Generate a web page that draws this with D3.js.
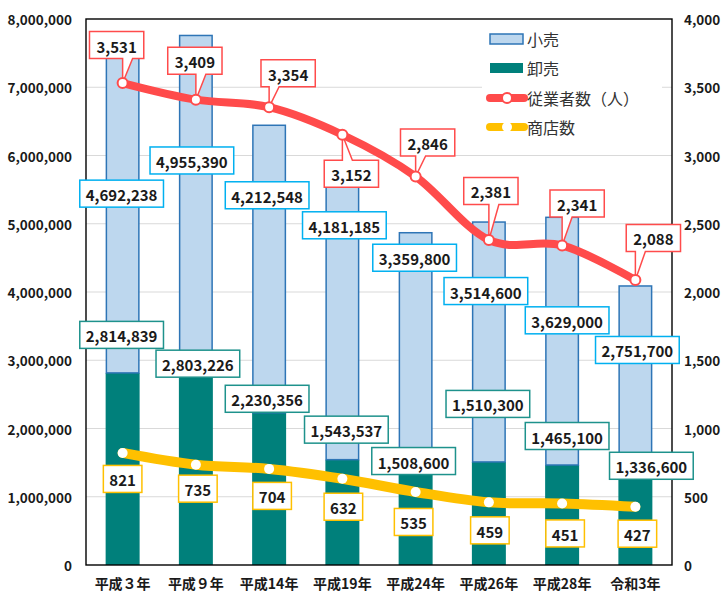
<!DOCTYPE html>
<html>
<head>
<meta charset="utf-8">
<script src="https://cdn.jsdelivr.net/npm/d3@7"></script>
<style>
  body { margin: 0; background: #fff; }
  svg { display: block; font-family: "Noto Sans CJK JP", "Noto Sans", sans-serif; }
</style>
</head>
<body>
<svg id="chart" width="724" height="597"></svg>
<script>
// ===== データ =====
const years = ["平成３年", "平成９年", "平成14年", "平成19年", "平成24年", "平成26年", "平成28年", "令和3年"];
const retail = [4692238, 4955390, 4212548, 4181185, 3359800, 3514600, 3629000, 2751700];
const wholesale = [2814839, 2803226, 2230356, 1543537, 1508600, 1510300, 1465100, 1336600];
const employees = [3531, 3409, 3354, 3152, 2846, 2381, 2341, 2088];
const stores = [821, 735, 704, 632, 535, 459, 451, 427];
const leftTicks = [0, 1000000, 2000000, 3000000, 4000000, 5000000, 6000000, 7000000, 8000000];
const rightTicks = [0, 500, 1000, 1500, 2000, 2500, 3000, 3500, 4000];
const legendNames = ["小売", "卸売", "従業者数（人）", "商店数"];

// ===== ラベル位置（手動調整, px） =====
// 小売: バー上端からの位置, 卸売: 卸売上端からの位置, 他: 点からの位置
const retailLbl = [[-1, 141], [-4, 125], [-2, 70], [2, 51], [-1, 25], [-3, 69], [5, 103], [2, 64]];
const wholesaleLbl = [[-1, -38], [2, -10], [-2, -14], [4, -30], [-2, -1], [-1, -58], [5, -29], [16, -8]];
const employeeLbl = [[-6, -38], [-1, -39], [19, -34], [9, 39], [12, -34], [2, -49], [15, -42], [18, -42]];
const storeLbl = [[0, 26], [2, 24], [3, 27], [1, 28], [-2, 30], [1, 28], [3, 30], [2, 27]];

// ===== 色 =====
const C = {
  retail: "#BDD7EE", retailStroke: "#2E75B6",
  wholesale: "#00807B",
  emp: "#FF4B4B", store: "#FFC000",
  retailLbl: "#00B0F0", wholesaleLbl: "#1E928C",
  grid: "#D9D9D9", text: "#1a1a1a"
};

const m = { left: 86, right: 672, top: 19, bottom: 565 };
const svg = d3.select("#chart");

const x = d3.scaleBand().domain(years).range([m.left, m.right])
  .paddingInner(0.536).paddingOuter(0.268);
const yL = d3.scaleLinear().domain([0, 8000000]).range([m.bottom, m.top]);
const yR = d3.scaleLinear().domain([0, 4000]).range([m.bottom, m.top]);
const cx = (i) => x(years[i]) + x.bandwidth() / 2;
const fmt = d3.format(",");

// グリッド
svg.append("g").selectAll("line").data(leftTicks.slice(1, -1)).join("line")
  .attr("x1", m.left).attr("x2", m.right)
  .attr("y1", d => yL(d)).attr("y2", d => yL(d))
  .attr("stroke", C.grid).attr("stroke-width", 1.2);

// 軸ラベル
svg.append("g").selectAll("text").data(leftTicks).join("text")
  .attr("x", 72).attr("y", d => yL(d)).attr("text-anchor", "end")
  .attr("dominant-baseline", "central")
  .attr("font-size", 13.5).attr("font-weight", "bold").attr("fill", C.text)
  .text(d => fmt(d));
svg.append("g").selectAll("text").data(rightTicks).join("text")
  .attr("x", 684).attr("y", d => yR(d)).attr("text-anchor", "start")
  .attr("dominant-baseline", "central")
  .attr("font-size", 13.5).attr("font-weight", "bold").attr("fill", C.text)
  .text(d => fmt(d));
svg.append("g").selectAll("text").data(years).join("text")
  .attr("x", d => x(d) + x.bandwidth() / 2).attr("y", 583)
  .attr("text-anchor", "middle").attr("dominant-baseline", "central")
  .attr("font-size", 14).attr("font-weight", "bold").attr("fill", C.text)
  .text(d => d);

// バー
const bars = svg.append("g");
bars.selectAll("rect.w").data(wholesale).join("rect").attr("class", "w")
  .attr("x", (d, i) => x(years[i])).attr("width", x.bandwidth())
  .attr("y", d => yL(d)).attr("height", d => yL(0) - yL(d))
  .attr("fill", C.wholesale);
bars.selectAll("rect.r").data(retail).join("rect").attr("class", "r")
  .attr("x", (d, i) => x(years[i]) + 0.75).attr("width", x.bandwidth() - 1.5)
  .attr("y", (d, i) => yL(d + wholesale[i]))
  .attr("height", (d, i) => yL(wholesale[i]) - yL(d + wholesale[i]))
  .attr("fill", C.retail).attr("stroke", C.retailStroke).attr("stroke-width", 1.5);

// 枠
svg.append("rect").attr("x", m.left).attr("y", m.top)
  .attr("width", m.right - m.left).attr("height", m.bottom - m.top)
  .attr("fill", "none").attr("stroke", "#000").attr("stroke-width", 1.4);

// 線
const curve = d3.curveCardinal.tension(0);
const empPts = employees.map((v, i) => [cx(i), yR(v)]);
const storePts = stores.map((v, i) => [cx(i), yR(v)]);
svg.append("path").attr("d", d3.line().curve(curve)(storePts))
  .attr("fill", "none").attr("stroke", C.store).attr("stroke-width", 10)
  .attr("stroke-linecap", "round");
svg.append("path").attr("d", d3.line().curve(curve)(empPts))
  .attr("fill", "none").attr("stroke", C.emp).attr("stroke-width", 8)
  .attr("stroke-linecap", "round");

// 凡例
const lg = svg.append("g");
lg.append("rect").attr("x", 482).attr("y", 24).attr("width", 180).attr("height", 118).attr("fill", "#fff");
const ly = [39, 68, 98, 127];
lg.append("rect").attr("x", 490).attr("y", ly[0] - 5).attr("width", 33).attr("height", 10)
  .attr("fill", C.retail).attr("stroke", C.retailStroke).attr("stroke-width", 1.5);
lg.append("rect").attr("x", 490).attr("y", ly[1] - 5).attr("width", 33).attr("height", 10)
  .attr("fill", C.wholesale);
lg.append("line").attr("x1", 490).attr("x2", 524).attr("y1", ly[2]).attr("y2", ly[2])
  .attr("stroke", C.emp).attr("stroke-width", 8).attr("stroke-linecap", "round");
lg.append("circle").attr("cx", 507).attr("cy", ly[2]).attr("r", 5)
  .attr("fill", "#fff").attr("stroke", C.emp).attr("stroke-width", 2);
lg.append("line").attr("x1", 490).attr("x2", 524).attr("y1", ly[3]).attr("y2", ly[3])
  .attr("stroke", C.store).attr("stroke-width", 8).attr("stroke-linecap", "round");
lg.append("circle").attr("cx", 507).attr("cy", ly[3]).attr("r", 5).attr("fill", "#fff");
lg.selectAll("text").data(legendNames).join("text")
  .attr("x", 527).attr("y", (d, i) => ly[i]).attr("dominant-baseline", "central")
  .attr("font-size", 16).attr("fill", "#333").text(d => d);

// ラベル（箱）
const LH = 27, PAD = 6;
function boxLabel(g, cxp, cyp, txt, stroke) {
  const t = g.append("text").attr("x", cxp).attr("y", cyp + 1)
    .attr("text-anchor", "middle").attr("dominant-baseline", "central")
    .attr("font-size", 15).attr("font-weight", "bold").attr("fill", C.text).text(txt);
  const w = t.node().getComputedTextLength() + PAD * 2;
  g.insert("rect", "text").attr("x", cxp - w / 2).attr("y", cyp - LH / 2)
    .attr("width", w).attr("height", LH).attr("fill", "#fff")
    .attr("stroke", stroke).attr("stroke-width", 1.5);
}

function calloutPath(bx, by, w, h, px, py) {
  const l = bx - w / 2, r = bx + w / 2, t = by - h / 2, b = by + h / 2, hw = 5;
  const c = Math.max(l + hw + 3, Math.min(r - hw - 3, px + 5));
  if (py > b) return `M${l},${t}H${r}V${b}H${c + hw}L${px},${py}L${c - hw},${b}H${l}Z`;
  return `M${l},${t}H${c - hw}L${px},${py}L${c + hw},${t}H${r}V${b}H${l}Z`;
}

const labels = svg.append("g");
retail.forEach((v, i) => {
  const [dx, dy] = retailLbl[i];
  boxLabel(labels.append("g"), cx(i) + dx, yL(v + wholesale[i]) + dy, fmt(v), C.retailLbl);
});
wholesale.forEach((v, i) => {
  const [dx, dy] = wholesaleLbl[i];
  boxLabel(labels.append("g"), cx(i) + dx, yL(v) + dy, fmt(v), C.wholesaleLbl);
});
stores.forEach((v, i) => {
  const [dx, dy] = storeLbl[i];
  boxLabel(labels.append("g"), cx(i) + dx, yR(v) + dy, fmt(v), "#FFC000");
});

// 従業者数 吹き出し
employees.forEach((v, i) => {
  const [dx, dy] = employeeLbl[i];
  const g = labels.append("g");
  const bx = cx(i) + dx, by = yR(v) + dy;
  const t = g.append("text").attr("x", bx).attr("y", by + 1)
    .attr("text-anchor", "middle").attr("dominant-baseline", "central")
    .attr("font-size", 15).attr("font-weight", "bold").attr("fill", C.text).text(fmt(v));
  const w = t.node().getComputedTextLength() + PAD * 2 + 2;
  g.insert("path", "text").attr("d", calloutPath(bx, by, w, LH, cx(i), yR(v)))
    .attr("fill", "#fff").attr("stroke", C.emp).attr("stroke-width", 1.5)
    .attr("stroke-linejoin", "miter");
});

// マーカー
svg.append("g").selectAll("circle").data(storePts).join("circle")
  .attr("cx", d => d[0]).attr("cy", d => d[1]).attr("r", 5).attr("fill", "#fff");
svg.append("g").selectAll("circle").data(empPts).join("circle")
  .attr("cx", d => d[0]).attr("cy", d => d[1]).attr("r", 5)
  .attr("fill", "#fff").attr("stroke", C.emp).attr("stroke-width", 2);
</script>
</body>
</html>
